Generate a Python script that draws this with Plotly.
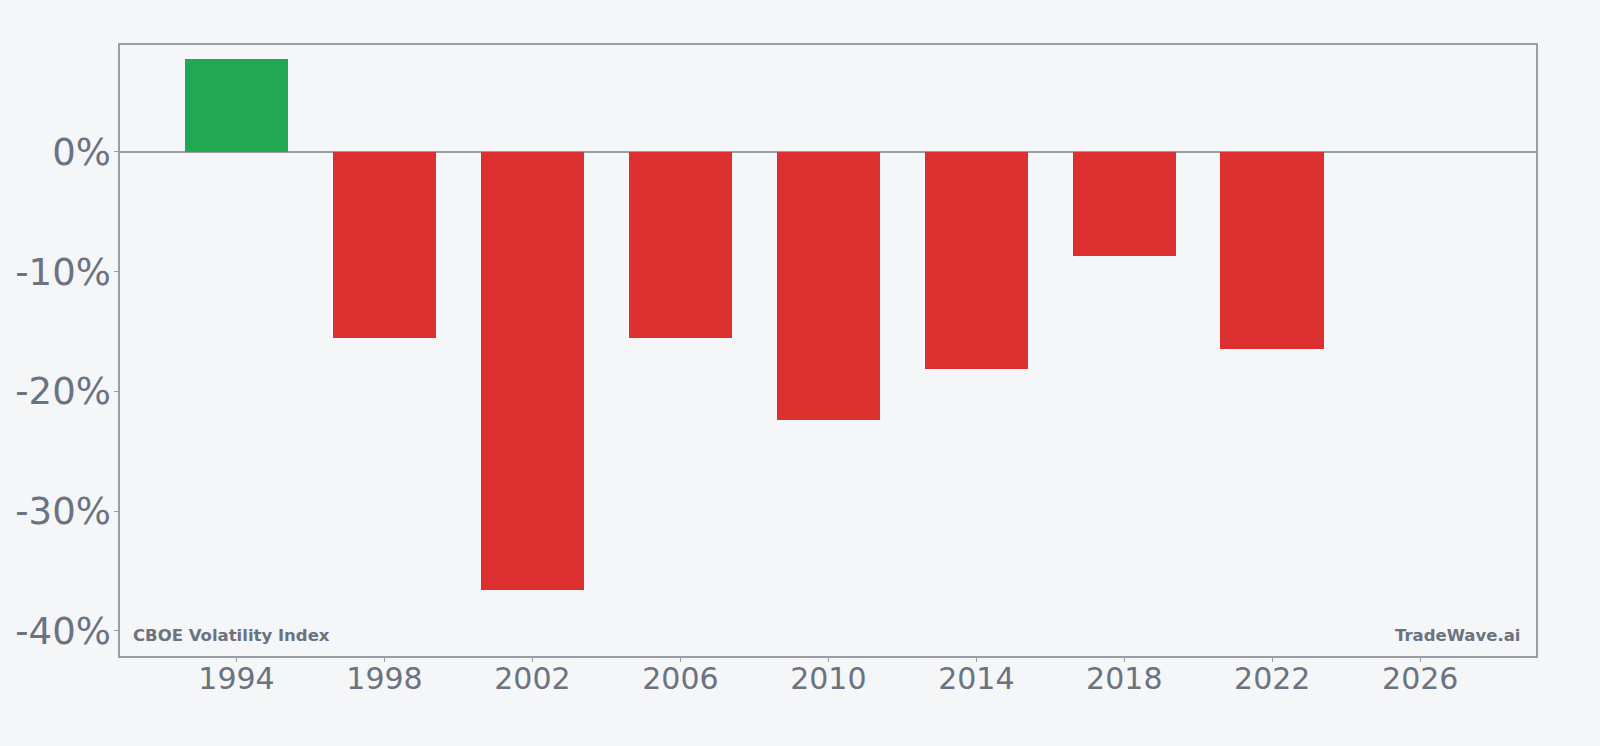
import plotly.graph_objects as go

years = [1994, 1998, 2002, 2006, 2010, 2014, 2018, 2022]
returns_pct = [7.76, -15.58, -36.62, -15.53, -22.37, -18.11, -8.68, -16.44]
y_tick_vals = [0, -10, -20, -30, -40]
y_tick_text = ["0%", "-10%", "-20%", "-30%", "-40%"]
x_tick_vals = [1994, 1998, 2002, 2006, 2010, 2014, 2018, 2022, 2026]

GREEN = "#22a852"
RED = "#dc3030"
GRAY_TXT = "#6b7280"
AXIS = "#9a9ca6"
BG = "#f4f6f8"

colors = [GREEN if v >= 0 else RED for v in returns_pct]

fig = go.Figure(go.Bar(
    x=years, y=returns_pct, width=2.8,
    marker=dict(color=colors, line=dict(width=0)),
    hoverinfo="x+y",
))

fig.update_layout(
    width=1600, height=746,
    margin=dict(l=120, r=64, t=45, b=90),
    paper_bgcolor=BG, plot_bgcolor=BG,
    font=dict(family="DejaVu Sans", color=GRAY_TXT),
    showlegend=False,
    bargap=0,
)
fig.update_xaxes(
    range=[1990.85, 2029.13], automargin=False,
    tickvals=x_tick_vals, ticktext=[str(v) for v in x_tick_vals],
    tickfont=dict(size=30, color=GRAY_TXT),
    ticks="outside", ticklen=4, tickcolor=AXIS, tickwidth=1,
    ticklabelstandoff=-9,
    showline=True, linecolor=AXIS, linewidth=1.5, mirror=True,
    showgrid=False, zeroline=False,
)
fig.update_yaxes(
    range=[-42.1, 8.93], automargin=False,
    tickvals=y_tick_vals, ticktext=y_tick_text,
    tickfont=dict(size=37, color=GRAY_TXT),
    ticks="outside", ticklen=4, tickcolor=AXIS, tickwidth=1,
    ticklabelstandoff=-4,
    showline=True, linecolor=AXIS, linewidth=1.5, mirror=True,
    showgrid=False, zeroline=True, zerolinecolor=AXIS, zerolinewidth=1.5,
)

fig.add_annotation(
    text="<b>CBOE Volatility Index</b>", xref="paper", yref="paper",
    x=0.008, y=0.015, xanchor="left", yanchor="bottom", showarrow=False,
    font=dict(size=16.5, color=GRAY_TXT, family="DejaVu Sans"),
)
fig.add_annotation(
    text="<b>TradeWave.ai</b>", xref="paper", yref="paper",
    x=0.99, y=0.015, xanchor="right", yanchor="bottom", showarrow=False,
    font=dict(size=16.5, color=GRAY_TXT, family="DejaVu Sans"),
)

fig.write_html("out.html")
